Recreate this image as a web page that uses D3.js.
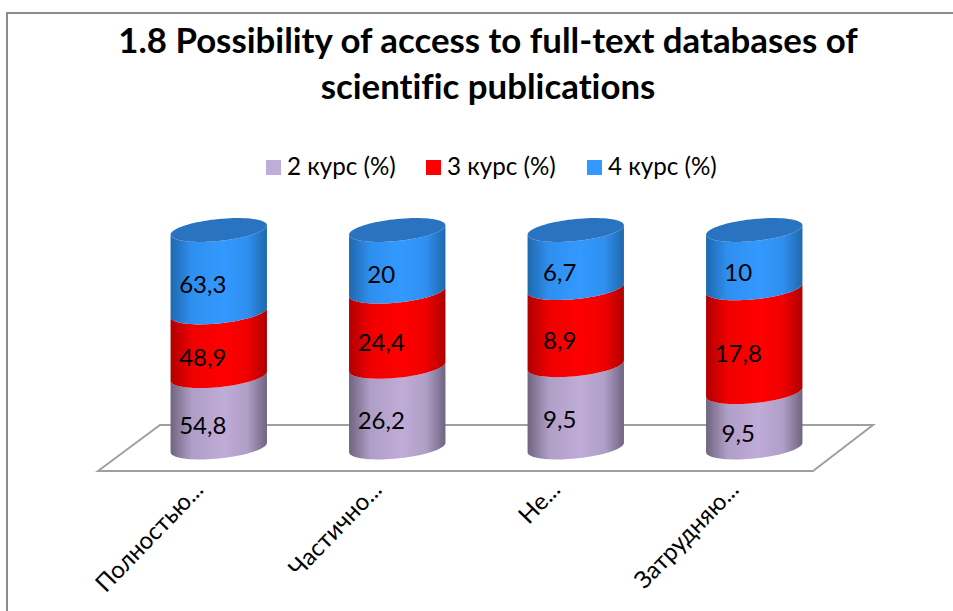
<!DOCTYPE html>
<html>
<head>
<meta charset="utf-8">
<script src="https://cdn.jsdelivr.net/npm/d3@7"></script>
<style>
    html, body { margin: 0; padding: 0; background: #fff; }
    text { font-family: Lato, "Open Sans", sans-serif; fill: #000; font-variant-ligatures: none; }
</style>
</head>
<body>
<div id="svg_container"></div>
<script>
const titleLines = ["1.8 Possibility of access to full-text databases of", "scientific publications"];
const categories = ["Полностью...", "Частично...", "Не...", "Затрудняю..."];
const seriesNames = ["2 курс (%)", "3 курс (%)", "4 курс (%)"];
const course2 = [54.8, 26.2, 9.5, 9.5];
const course3 = [48.9, 24.4, 8.9, 17.8];
const course4 = [63.3, 20, 6.7, 10];
const seriesValues = [course2, course3, course4];
const valueLabels = [
    ["54,8", "26,2", "9,5", "9,5"],
    ["48,9", "24,4", "8,9", "17,8"],
    ["63,3", "20", "6,7", "10"]
];
const seriesColors = ["#bfacd8", "#ff0000", "#3399ff"];
const edgeColors = ["#6f6480", "#b00000", "#1f68ad"];
const capColor = "#2a73c0";

function createChart() {
    const width = 953;
    const height = 611;
    const svg = d3.select("#svg_container").append("svg")
        .attr("width", width)
        .attr("height", height)
        .style("display", "block");

    // chart frame, only the left and top edges are in the picture
    svg.append("path")
        .attr("d", `M7,${height}V13H${width}`)
        .attr("fill", "none")
        .attr("stroke", "#8c8c8c")
        .attr("stroke-width", 2);

    svg.append("g")
        .selectAll("text")
        .data(titleLines)
        .join("text")
        .attr("x", 488)
        .attr("y", (d, i) => 53 + i * 46)
        .attr("text-anchor", "middle")
        .attr("font-size", 34.8)
        .attr("font-weight", 700)
        .text(d => d);

    // legend
    const legendX = d3.scaleOrdinal().domain(seriesNames).range([266, 426, 587]);
    const legend = svg.append("g")
        .selectAll("g")
        .data(seriesNames)
        .join("g")
        .attr("transform", d => `translate(${legendX(d)},160)`);
    legend.append("rect")
        .attr("width", 15)
        .attr("height", 15)
        .attr("fill", (d, i) => seriesColors[i]);
    legend.append("text")
        .attr("x", 21)
        .attr("y", 15)
        .attr("font-size", 24.2)
        .text(d => d);

    // floor of the 3d plot
    svg.append("path")
        .attr("d", "M98,471L160,425H873L813,471Z")
        .attr("fill", "none")
        .attr("stroke", "#a0a0a0")
        .attr("stroke-width", 2);

    const x = d3.scaleBand()
        .domain(categories)
        .range([129.5, 843.5])
        .paddingInner(0.46)
        .paddingOuter(0.23);
    const y = d3.scaleLinear().domain([0, 1]).range([447.5, 230]);

    const rows = categories.map((c, i) => {
        const row = { category: c };
        seriesNames.forEach((s, j) => { row[s] = seriesValues[j][i]; });
        return row;
    });
    const stacked = d3.stack().keys(seriesNames).offset(d3.stackOffsetExpand)(rows);

    const defs = svg.append("defs");
    seriesColors.forEach((c, i) => {
        const grad = defs.append("linearGradient").attr("id", "cyl" + i);
        grad.append("stop").attr("offset", "0%").attr("stop-color", edgeColors[i]);
        grad.append("stop").attr("offset", "22%").attr("stop-color", d3.interpolateRgb(edgeColors[i], c)(0.8));
        grad.append("stop").attr("offset", "55%").attr("stop-color", c);
        grad.append("stop").attr("offset", "80%").attr("stop-color", d3.interpolateRgb(edgeColors[i], c)(0.8));
        grad.append("stop").attr("offset", "100%").attr("stop-color", edgeColors[i]);
    });

    // cylinder section outline: sheared ellipse, tilt goes up to the right
    const tilt = 4.7;
    const depth = 11;
    const halfTurn = d3.range(0, 41).map(i => i / 40 * Math.PI);
    const line = d3.line();
    function rim(cx, cy, w, angles) {
        return angles.map(t => [
            cx - w * Math.cos(t),
            cy + tilt * Math.cos(t) + depth * Math.sin(t)
        ]);
    }
    function sectionPath(cx, w, v0, v1) {
        const lower = rim(cx, y(v0), w, halfTurn);
        const upper = rim(cx, y(v1), w, halfTurn).reverse();
        return line(lower.concat(upper)) + "Z";
    }

    const sections = svg.append("g");
    stacked.forEach((layer, i) => {
        sections.append("g")
            .selectAll("path")
            .data(layer)
            .join("path")
            .attr("d", d => sectionPath(x(d.data.category) + x.bandwidth() / 2, x.bandwidth() / 2, d[0], d[1]))
            .attr("fill", `url(#cyl${i})`);
    });

    // top caps
    const fullTurn = d3.range(0, 81).map(i => i / 40 * Math.PI);
    sections.append("g")
        .selectAll("path")
        .data(categories)
        .join("path")
        .attr("d", c => line(rim(x(c) + x.bandwidth() / 2, y(1), x.bandwidth() / 2, fullTurn)) + "Z")
        .attr("fill", capColor);

    // value labels sit left of and below the section centre
    stacked.forEach((layer, i) => {
        svg.append("g")
            .selectAll("text")
            .data(layer)
            .join("text")
            .attr("x", d => x(d.data.category) + x.bandwidth() / 2 - 16)
            .attr("y", d => y((d[0] + d[1]) / 2) + 22)
            .attr("text-anchor", "middle")
            .attr("font-size", 24)
            .text((d, k) => valueLabels[i][k]);
    });

    // category labels, rotated
    svg.append("g")
        .selectAll("text")
        .data(categories)
        .join("text")
        .attr("transform", c => `translate(${x(c) + x.bandwidth() / 2 - 14},491) rotate(-46)`)
        .attr("text-anchor", "end")
        .attr("font-size", 24)
        .text(c => c);
}

document.addEventListener('DOMContentLoaded', function (e) {
    createChart();
});
</script>
</body>
</html>
